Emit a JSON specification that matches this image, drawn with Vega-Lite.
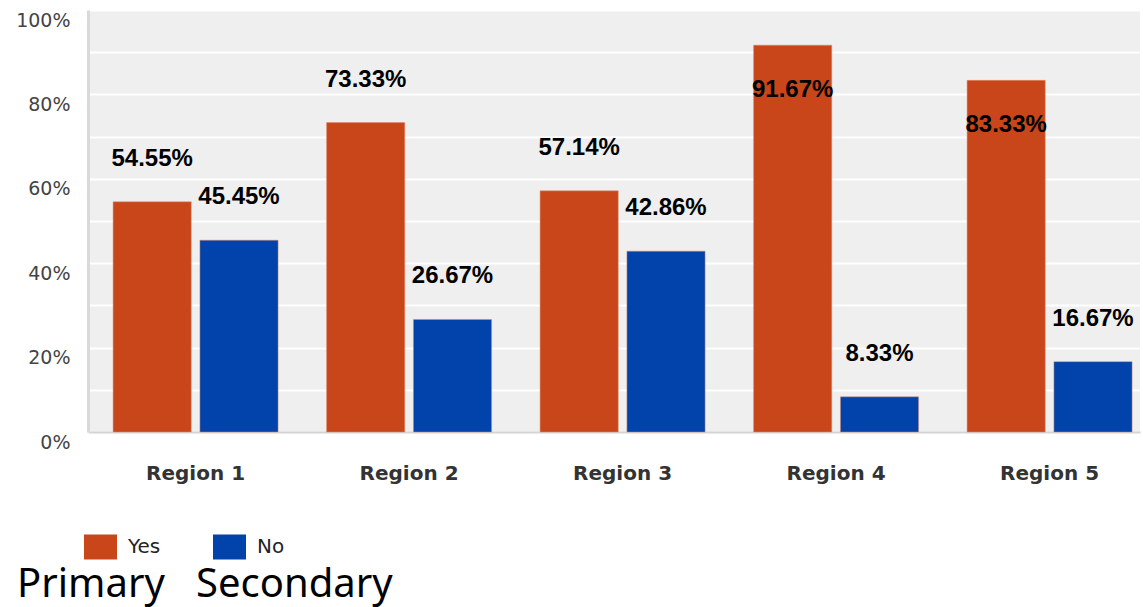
{
  "$schema": "https://vega.github.io/schema/vega-lite/v6.json",
  "width": 1052,
  "height": 422,
  "autosize": "none",
  "padding": {"left": 88, "top": 10, "right": 3, "bottom": 175},
  "background": "white",
  "title": {
    "text": "Primary\u00a0\u00a0\u00a0Secondary",
    "orient": "bottom",
    "anchor": "start",
    "frame": "group",
    "font": "Noto Sans",
    "fontSize": 40,
    "fontWeight": "normal",
    "color": "black",
    "dx": -71,
    "offset": 5
  },
  "config": {
    "view": {"fill": "#efefef", "stroke": null}
  },
  "data": {
    "values": [
      {"region": "Region 1", "answer": "Yes", "value": 0.5455},
      {"region": "Region 1", "answer": "No", "value": 0.4545},
      {"region": "Region 2", "answer": "Yes", "value": 0.7333},
      {"region": "Region 2", "answer": "No", "value": 0.2667},
      {"region": "Region 3", "answer": "Yes", "value": 0.5714},
      {"region": "Region 3", "answer": "No", "value": 0.4286},
      {"region": "Region 4", "answer": "Yes", "value": 0.9167},
      {"region": "Region 4", "answer": "No", "value": 0.0833},
      {"region": "Region 5", "answer": "Yes", "value": 0.8333},
      {"region": "Region 5", "answer": "No", "value": 0.1667}
    ]
  },
  "encoding": {
    "x": {
      "field": "region",
      "type": "nominal",
      "scale": {"paddingInner": 0.2272, "paddingOuter": 0.0773, "align": 0.76},
      "axis": {
        "title": null,
        "labelAngle": 0,
        "labelFont": "DejaVu Sans",
        "labelFontSize": 20,
        "labelFontWeight": "bold",
        "labelColor": "#333333",
        "labelPadding": 31,
        "ticks": false,
        "domainColor": "#d4d4d4",
        "domainWidth": 2
      }
    },
    "xOffset": {
      "field": "answer",
      "type": "nominal",
      "scale": {"domain": ["Yes", "No"], "paddingInner": 0.1}
    },
    "y": {
      "field": "value",
      "type": "quantitative",
      "scale": {"domain": [0, 1], "nice": false},
      "axis": {
        "title": null,
        "values": [0, 0.1, 0.2, 0.3, 0.4, 0.5, 0.6, 0.7, 0.8, 0.9, 1],
        "format": ".0%",
        "labelExpr": "round(datum.value * 100) % 20 == 0 ? datum.label : ''",
        "labelFont": "DejaVu Sans",
        "labelFontSize": 19,
        "labelColor": "#444444",
        "labelBaseline": "top",
        "labelOffset": 1,
        "labelPadding": 18,
        "ticks": false,
        "gridColor": "white",
        "gridWidth": 2,
        "domainColor": "#d9d9d9",
        "domainWidth": 3
      }
    }
  },
  "layer": [
    {
      "mark": {"type": "bar", "stroke": "#e08a6a", "strokeWidth": 0.5},
      "encoding": {
        "color": {
          "field": "answer",
          "type": "nominal",
          "scale": {"domain": ["Yes", "No"], "range": ["#c9461a", "#0142ab"]},
          "legend": {
            "title": null,
            "orient": "none",
            "direction": "horizontal",
            "legendX": -4,
            "legendY": 520,
            "symbolType": "M-1,-0.76H1V0.76H-1Z",
            "symbolSize": 1089,
            "symbolStrokeWidth": 0,
            "symbolOpacity": 1,
            "labelFont": "DejaVu Sans",
            "labelFontSize": 20,
            "labelColor": "#222222",
            "labelOffset": 11,
            "columnPadding": 52
          }
        }
      }
    },
    {
      "transform": [{"filter": "datum.value < 0.8"}],
      "mark": {
        "type": "text",
        "dy": -43,
        "font": "Liberation Sans",
        "fontSize": 24,
        "fontWeight": "bold",
        "color": "black"
      },
      "encoding": {"text": {"field": "value", "type": "quantitative", "format": ".2%"}}
    },
    {
      "transform": [{"filter": "datum.value >= 0.8"}],
      "mark": {
        "type": "text",
        "dy": 45,
        "font": "Liberation Sans",
        "fontSize": 24,
        "fontWeight": "bold",
        "color": "black"
      },
      "encoding": {"text": {"field": "value", "type": "quantitative", "format": ".2%"}}
    }
  ]
}
